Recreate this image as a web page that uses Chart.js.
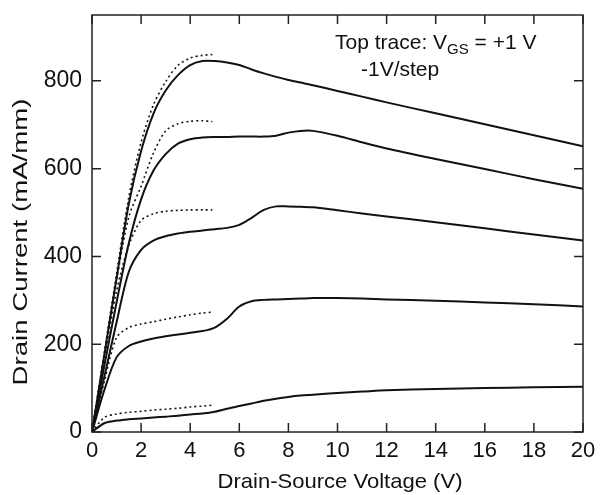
<!DOCTYPE html>
<html>
<head>
<meta charset="utf-8">
<script src="https://cdn.jsdelivr.net/npm/chart.js@4/dist/chart.umd.min.js"></script>
<style>
  html, body { margin: 0; padding: 0; background: #fff; }
  #wrap { width: 601px; height: 495px; }
</style>
</head>
<body>
<div id="wrap"><canvas id="myChart" width="601" height="495"></canvas></div>
<script>
// measured curves (Vds in V, Id in mA/mm)
const vdsMeas = [0, 0.5, 1, 1.5, 2, 2.5, 3, 3.5, 4, 4.5, 5, 5.5, 6, 6.5, 7, 7.5, 8, 8.5, 9, 10, 11, 12, 14, 16, 18, 20];
const idVgsP1 = [0, 175, 350, 520, 640, 725, 778, 813, 836, 845, 845, 842, 836, 826, 817, 809, 802, 796, 790, 777, 764, 751, 726, 701, 676, 651];
const idVgs0  = [0, 150, 295, 430, 530, 595, 633, 657, 667, 671, 672, 672, 673, 673, 673, 675, 682, 686, 686, 675, 660, 646, 622, 599, 576, 554];
const idVgsM1 = [0, 125, 250, 365, 415, 436, 446, 452, 456, 459, 462, 465, 472, 488, 506, 514, 514, 513, 512, 505, 498, 491, 478, 464, 450, 436];
const idVgsM2 = [0, 95, 170, 196, 206, 213, 218, 222, 226, 230, 238, 258, 286, 298, 301, 302, 303, 304, 305, 305, 304, 302, 299, 295, 291, 286];
const idVgsM3 = [0, 20, 26, 29, 31, 33, 35, 37, 40, 42, 46, 53, 59, 65, 71, 76, 80, 83, 85, 89, 92, 95, 98, 100, 102, 103];

// dotted curves (short sweep)
const vdsDot = [0, 0.5, 1, 1.5, 2, 2.5, 3, 3.5, 4, 4.5, 4.9];
const dotVgsP1 = [0, 180, 360, 535, 660, 745, 798, 835, 852, 858, 860];
const dotVgs0  = [0, 175, 345, 490, 560, 635, 686, 702, 708, 709, 707];
const dotVgsM1 = [0, 165, 320, 425, 482, 497, 503, 505, 506, 506, 506];
const dotVgsM2 = [0, 115, 215, 238, 246, 251, 257, 262, 267, 271, 273];
const dotVgsM3 = [0, 33, 41, 45, 47, 50, 52, 54, 57, 59, 61];

const xTicks = [0, 2, 4, 6, 8, 10, 12, 14, 16, 18, 20];
const yTicks = [0, 200, 400, 600, 800];

const FONT = "'Liberation Sans', Arial, sans-serif";

function pts(xs, ys) {
  return xs.map((x, i) => ({ x: x, y: ys[i] }));
}
function solid(ys) {
  return { data: pts(vdsMeas, ys), borderColor: '#111', borderWidth: 2, pointRadius: 0, tension: 0.3, fill: false };
}
function dotted(ys) {
  return { data: pts(vdsDot, ys), borderColor: '#111', borderWidth: 1.6, borderDash: [2, 3], pointRadius: 0, tension: 0.3, fill: false };
}

// text squeezed/stretched to a given length (scan proportions)
function fitText(c, txt, x, y, len, size, rot) {
  c.save();
  c.translate(x, y);
  if (rot) c.rotate(rot);
  c.font = size + 'px ' + FONT;
  const w = c.measureText(txt).width;
  c.scale(len / w, 1);
  c.textAlign = 'center';
  c.textBaseline = 'alphabetic';
  c.fillText(txt, 0, 0);
  c.restore();
}

// frame, inward ticks on all four sides, axis titles and the note
const framePlugin = {
  id: 'frame',
  afterDraw(chart) {
    const c = chart.ctx, a = chart.chartArea;
    const xs = chart.scales.x, ys = chart.scales.y;
    c.save();
    c.strokeStyle = '#222';
    c.lineWidth = 1.5;
    c.strokeRect(a.left, a.top, a.right - a.left, a.bottom - a.top);
    c.beginPath();
    xTicks.forEach(v => {
      const px = xs.getPixelForValue(v);
      c.moveTo(px, a.bottom); c.lineTo(px, a.bottom - 9);
      c.moveTo(px, a.top); c.lineTo(px, a.top + 9);
    });
    yTicks.forEach(v => {
      const py = ys.getPixelForValue(v);
      c.moveTo(a.left, py); c.lineTo(a.left + 9, py);
      c.moveTo(a.right, py); c.lineTo(a.right - 9, py);
    });
    c.stroke();

    c.fillStyle = '#111';
    fitText(c, 'Drain-Source Voltage (V)', 340, 488, 245, 21, 0);
    fitText(c, 'Drain Current (mA/mm)', 27, 242, 287, 21, -Math.PI / 2);

    c.textBaseline = 'alphabetic';
    c.textAlign = 'left';
    c.font = '21px ' + FONT;
    let x = 335, y = 49;
    c.fillText('Top trace: V', x, y);
    x += c.measureText('Top trace: V').width;
    c.font = '15px ' + FONT;
    c.fillText('GS', x, y + 5);
    x += c.measureText('GS').width;
    c.font = '21px ' + FONT;
    c.fillText(' = +1 V', x, y);
    c.fillText('-1V/step', 361, 76);
    c.restore();
  }
};

const ctx = document.getElementById('myChart');

new Chart(ctx, {
  type: 'line',
  data: {
    datasets: [
      solid(idVgsP1), solid(idVgs0), solid(idVgsM1), solid(idVgsM2), solid(idVgsM3),
      dotted(dotVgsP1), dotted(dotVgs0), dotted(dotVgsM1), dotted(dotVgsM2), dotted(dotVgsM3)
    ]
  },
  options: {
    responsive: false,
    animation: false,
    layout: { padding: { top: 15, right: 18, left: 0, bottom: 0 } },
    plugins: { legend: { display: false }, tooltip: { enabled: false } },
    scales: {
      x: {
        type: 'linear',
        min: 0,
        max: 20,
        afterBuildTicks: s => { s.ticks = xTicks.map(v => ({ value: v })); },
        afterFit: s => { s.height = 63; s.paddingLeft = 0; s.paddingRight = 0; },
        grid: { display: false, drawTicks: false },
        border: { display: false },
        ticks: { color: '#111', font: { family: FONT, size: 22 }, padding: 6, maxRotation: 0 }
      },
      y: {
        min: 0,
        max: 950,
        afterBuildTicks: s => { s.ticks = yTicks.map(v => ({ value: v })); },
        afterFit: s => { s.width = 92; s.paddingTop = 0; s.paddingBottom = 0; },
        grid: { display: false, drawTicks: false },
        border: { display: false },
        ticks: { color: '#111', font: { family: FONT, size: 23 }, padding: 10 }
      }
    }
  },
  plugins: [framePlugin]
});
</script>
</body>
</html>
